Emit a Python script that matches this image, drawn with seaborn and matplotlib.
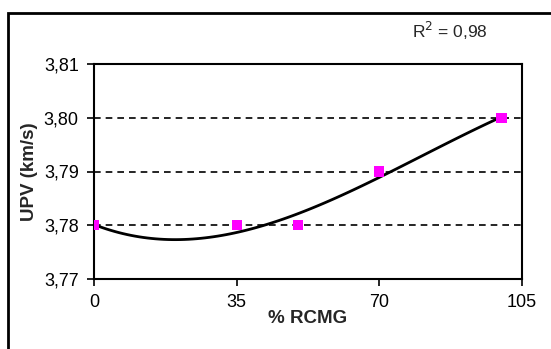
import numpy as np
import pandas as pd
import matplotlib
matplotlib.use('Agg')
import matplotlib.pyplot as plt
import seaborn as sns
from matplotlib.patches import Rectangle
from matplotlib.ticker import FuncFormatter

# data
rcmg_pct = [0, 35, 50, 70, 100]
upv_kms = [3.78, 3.78, 3.78, 3.79, 3.80]
x_ticks = [0, 35, 70, 105]
y_ticks = [3.77, 3.78, 3.79, 3.80, 3.81]
r2_label = 'R$^2$ = 0,98'

df = pd.DataFrame({'rcmg': rcmg_pct, 'upv': upv_kms})

sns.set_theme(style='white')
plt.rcParams['font.family'] = ['Liberation Sans', 'DejaVu Sans']

W, H = 551, 349
fig = plt.figure(figsize=(W / 100, H / 100), dpi=100)
ax = fig.add_axes([94 / W, 1 - 279 / H, 428 / W, 215 / H])

# outer chart border (right/bottom edges fall outside the image)
fig.patches.append(Rectangle((8 / W, -0.05), 1.2, (H - 13) / H + 0.05,
                             transform=fig.transFigure, fill=False,
                             edgecolor='black', linewidth=2))

# dashed gridlines
for y in y_ticks[1:-1]:
    ax.axhline(y, color='black', linestyle=(0, (4, 3)), linewidth=1.2, zorder=1)

# polynomial trend line
sns.regplot(data=df, x='rcmg', y='upv', order=3, ci=None, scatter=False,
            color='black', line_kws={'linewidth': 2}, ax=ax)

sns.scatterplot(data=df, x='rcmg', y='upv', marker='s', s=55, color='#ff00ff',
                edgecolor='none', zorder=3, ax=ax)

ax.set_xlim(0, 105)
ax.set_ylim(3.77, 3.81)
ax.set_xticks(x_ticks)
ax.set_yticks(y_ticks)
ax.xaxis.set_major_formatter(FuncFormatter(lambda v, p: f'{v:.0f}'))
ax.yaxis.set_major_formatter(FuncFormatter(lambda v, p: f'{v:.2f}'.replace('.', ',')))
ax.tick_params(direction='out', length=5, width=1.2, colors='black',
               labelsize=13, pad=6, bottom=True, left=True)

for s in ax.spines.values():
    s.set_color('black')
    s.set_linewidth(1.5)

ax.set_xlabel('% RCMG', fontsize=13.5, fontweight='bold', labelpad=-1)
ax.set_ylabel('UPV (km/s)', fontsize=13.5, fontweight='bold', labelpad=4)

fig.text(450 / W, 1 - 31 / H, r2_label, fontsize=12.5, ha='center', va='center')

fig.savefig('out.png', dpi=100)
